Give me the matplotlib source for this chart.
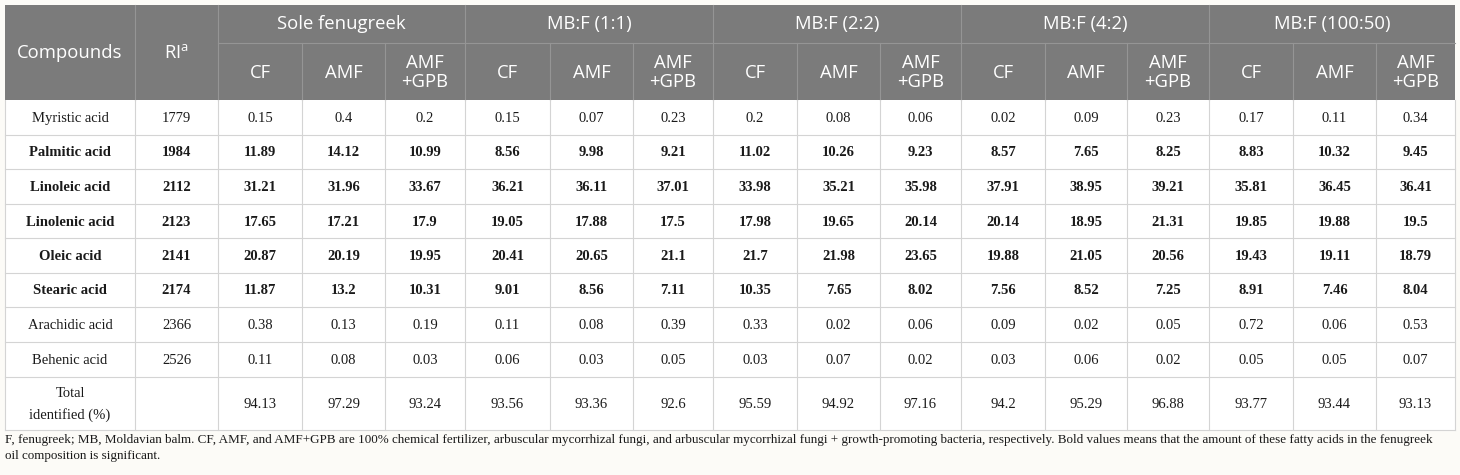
import matplotlib
matplotlib.use("Agg")
import matplotlib.pyplot as plt
from matplotlib.patches import Rectangle

# ---- table content ----
compounds = ["Myristic acid", "Palmitic acid", "Linoleic acid", "Linolenic acid",
             "Oleic acid", "Stearic acid", "Arachidic acid", "Behenic acid",
             "Total\nidentified (%)"]
ri_values = ["1779", "1984", "2112", "2123", "2141", "2174", "2366", "2526", ""]
bold_rows = [False, True, True, True, True, True, False, False, False]
groups = ["Sole fenugreek", "MB:F (1:1)", "MB:F (2:2)", "MB:F (4:2)", "MB:F (100:50)"]
treatments = ["CF", "AMF", "AMF\n+GPB"]

myristic = ["0.15", "0.4", "0.2", "0.15", "0.07", "0.23", "0.2", "0.08", "0.06",
            "0.02", "0.09", "0.23", "0.17", "0.11", "0.34"]
palmitic = ["11.89", "14.12", "10.99", "8.56", "9.98", "9.21", "11.02", "10.26", "9.23",
            "8.57", "7.65", "8.25", "8.83", "10.32", "9.45"]
linoleic = ["31.21", "31.96", "33.67", "36.21", "36.11", "37.01", "33.98", "35.21", "35.98",
            "37.91", "38.95", "39.21", "35.81", "36.45", "36.41"]
linolenic = ["17.65", "17.21", "17.9", "19.05", "17.88", "17.5", "17.98", "19.65", "20.14",
             "20.14", "18.95", "21.31", "19.85", "19.88", "19.5"]
oleic = ["20.87", "20.19", "19.95", "20.41", "20.65", "21.1", "21.7", "21.98", "23.65",
         "19.88", "21.05", "20.56", "19.43", "19.11", "18.79"]
stearic = ["11.87", "13.2", "10.31", "9.01", "8.56", "7.11", "10.35", "7.65", "8.02",
           "7.56", "8.52", "7.25", "8.91", "7.46", "8.04"]
arachidic = ["0.38", "0.13", "0.19", "0.11", "0.08", "0.39", "0.33", "0.02", "0.06",
             "0.09", "0.02", "0.05", "0.72", "0.06", "0.53"]
behenic = ["0.11", "0.08", "0.03", "0.06", "0.03", "0.05", "0.03", "0.07", "0.02",
           "0.03", "0.06", "0.02", "0.05", "0.05", "0.07"]
total = ["94.13", "97.29", "93.24", "93.56", "93.36", "92.6", "95.59", "94.92", "97.16",
         "94.2", "95.29", "96.88", "93.77", "93.44", "93.13"]
rows = [myristic, palmitic, linoleic, linolenic, oleic, stearic, arachidic, behenic, total]

footnote = ("F, fenugreek; MB, Moldavian balm. CF, AMF, and AMF+GPB are 100% chemical fertilizer, "
            "arbuscular mycorrhizal fungi, and arbuscular mycorrhizal fungi + growth-promoting "
            "bacteria, respectively. Bold values means that the amount of these fatty acids in the "
            "fenugreek\noil composition is significant.")

# ---- layout (pixel units) ----
W, H = 1460, 475
col_edges = [5, 135, 218, 302, 385, 465, 550, 633, 713, 797, 880, 961,
             1045, 1127, 1209, 1293, 1376, 1455]
head_top, head_mid, head_bot = 5, 43, 100
row_edges = [100, 135, 169, 204, 238, 273, 307, 342, 377, 430]

HEAD_BG = "#7b7b7b"
HEAD_LINE = "#959595"
GRID = "#d4d4d4"
PAGE = "#fcfbf7"
SANS = "Open Sans"
SERIF = "Liberation Serif"
HEAD_FS = 13.3

plt.rcParams["mathtext.fontset"] = "custom"
plt.rcParams["mathtext.rm"] = SANS

fig = plt.figure(figsize=(W / 100, H / 100), dpi=100, facecolor=PAGE)
ax = fig.add_axes([0, 0, 1, 1])
ax.set_xlim(0, W)
ax.set_ylim(H, 0)
ax.axis("off")

# header background
ax.add_patch(Rectangle((col_edges[0], head_top), col_edges[-1] - col_edges[0],
                       head_bot - head_top, facecolor=HEAD_BG, edgecolor="none"))
# body background
ax.add_patch(Rectangle((col_edges[0], row_edges[0]), col_edges[-1] - col_edges[0],
                       row_edges[-1] - row_edges[0], facecolor="white", edgecolor="none"))

# header lines
for i, x in enumerate(col_edges[1:-1], start=1):
    sub = i >= 2 and (i - 2) % 3 != 0
    y0 = head_mid if sub else head_top
    ax.plot([x, x], [y0, head_bot], color=HEAD_LINE, lw=0.8)
ax.plot([col_edges[2], col_edges[-1]], [head_mid, head_mid], color=HEAD_LINE, lw=0.8)

# header text
ax.text((col_edges[0] + col_edges[1]) / 2, (head_top + head_bot) / 2, "Compounds",
        ha="center", va="center", color="white", fontsize=HEAD_FS, family=SANS)
ax.text((col_edges[1] + col_edges[2]) / 2, (head_top + head_bot) / 2, r"RI$^{\mathrm{a}}$",
        ha="center", va="center", color="white", fontsize=HEAD_FS, family=SANS)
for g, name in enumerate(groups):
    x0 = col_edges[2 + 3 * g]
    x1 = col_edges[5 + 3 * g]
    ax.text((x0 + x1) / 2, (head_top + head_mid) / 2, name, ha="center", va="center",
            color="white", fontsize=HEAD_FS, family=SANS)
    for t, tname in enumerate(treatments):
        c = 2 + 3 * g + t
        ax.text((col_edges[c] + col_edges[c + 1]) / 2, (head_mid + head_bot) / 2 + 1, tname,
                ha="center", va="center", color="white", fontsize=HEAD_FS, family=SANS,
                linespacing=1.05)

# body grid
for x in col_edges:
    ax.plot([x, x], [row_edges[0], row_edges[-1]], color=GRID, lw=0.8)
for y in row_edges[1:]:
    ax.plot([col_edges[0], col_edges[-1]], [y, y], color=GRID, lw=0.8)

# body text
for r, name in enumerate(compounds):
    yc = (row_edges[r] + row_edges[r + 1]) / 2
    weight = "bold" if bold_rows[r] else "normal"
    cells = [name, ri_values[r]] + rows[r]
    for c, val in enumerate(cells):
        ax.text((col_edges[c] + col_edges[c + 1]) / 2, yc + 1, val, ha="center", va="center",
                fontsize=10.5, family=SERIF, weight=weight, color="#1a1a1a",
                linespacing=1.75)

ax.text(col_edges[0], row_edges[-1] + 4, footnote, ha="left", va="top", fontsize=9.45,
        family=SERIF, color="#1a1a1a", linespacing=1.5)

fig.savefig("out.png", dpi=100, facecolor=PAGE)
